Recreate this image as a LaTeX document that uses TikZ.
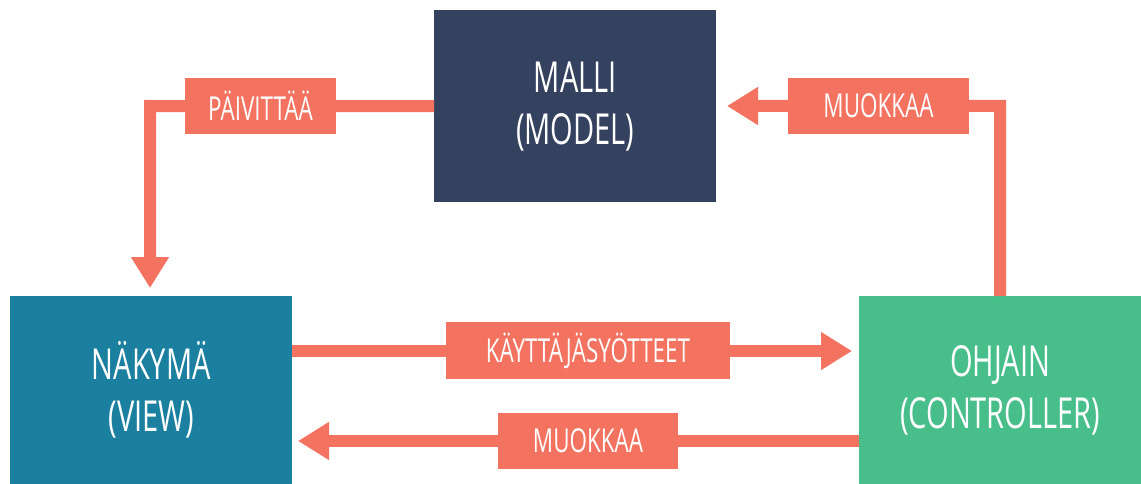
\documentclass[tikz,border=0pt]{standalone}
\usepackage{fontspec}
\setmainfont{Open Sans}[FakeStretch=0.68]
\usetikzlibrary{arrows.meta}

\definecolor{modelnavy}{HTML}{344260}
\definecolor{viewteal}{HTML}{1B7FA0}
\definecolor{ctrlgreen}{HTML}{48BE8B}
\definecolor{salmon}{HTML}{F47260}

\newcommand{\blockfont}{\fontsize{42.7}{52}\selectfont}
\newcommand{\tagfont}{\fontsize{33}{40}\selectfont}

\begin{document}
\begin{tikzpicture}[x=1pt,y=-1pt,
  block/.style={rectangle, draw=none, inner sep=0pt, anchor=north west,
    minimum width=282pt, text=white, align=center, font=\blockfont},
  flow/.style={draw=salmon, line width=12pt, line join=miter,
    -{Triangle[width=36pt,length=31pt]}},
  flowplain/.style={draw=salmon, line width=12pt, line join=miter},
  tag/.style={rectangle, fill=salmon, text=white, inner sep=0pt,
    minimum height=56pt, font=\tagfont}]
  \useasboundingbox (0,0) rectangle (1141,484);

  % the three components
  \node[block, fill=modelnavy, minimum height=192pt] (model) at (434,10) {MALLI\\(MODEL)};
  \node[block, fill=viewteal, minimum height=188pt] (view) at (10,296) {NÄKYMÄ\\(VIEW)};
  \node[block, fill=ctrlgreen, minimum height=188pt] (ctrl) at (859,296) {OHJAIN\\(CONTROLLER)};

  % bend points and arrow ends
  \coordinate (updcorner) at (150,106);
  \coordinate (updend) at (150,288);
  \coordinate (modcorner) at (1000,106);
  \coordinate (modend) at (727,106);
  \coordinate (inpstart) at (292,351);
  \coordinate (inpend) at (852,351);
  \coordinate (backstart) at (859,441);
  \coordinate (backend) at (298,441);

  % connectors
  \draw[flow] (model.west) -- (updcorner) -- (updend);
  \draw[flow] (ctrl.north) -- (modcorner) -- (modend);
  \draw[flow] (inpstart) -- (inpend);
  \draw[flow] (backstart) -- (backend);

  % connector labels
  \node[tag, minimum width=151pt] (upd) at (260.5,106) {PÄIVITTÄÄ};
  \node[tag, minimum width=181pt] (mod) at (878.5,106) {MUOKKAA};
  \node[tag, minimum width=284pt, minimum height=57pt] (inp) at (588,350.5) {KÄYTTÄJÄSYÖTTEET};
  \node[tag, minimum width=180pt] (back) at (588,441) {MUOKKAA};
\end{tikzpicture}
\end{document}
